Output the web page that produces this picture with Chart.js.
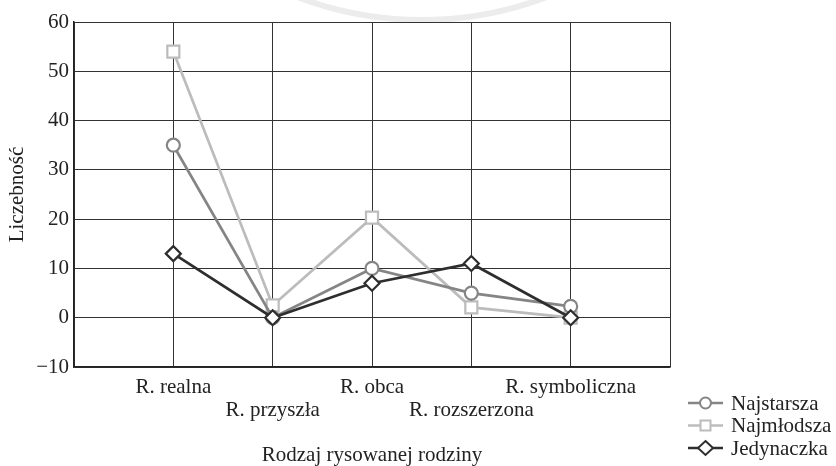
<!DOCTYPE html>
<html>
<head>
<meta charset="utf-8">
<script src="https://cdn.jsdelivr.net/npm/chart.js@4/dist/chart.umd.min.js"></script>
<style>
html,body{margin:0;padding:0;background:#fff;}
#wrap{width:836px;height:466px;position:relative;}
</style>
</head>
<body>
<div id="wrap"><canvas id="c" width="836" height="466"></canvas></div>
<script>
const categories = ['R. realna', 'R. przyszła', 'R. obca', 'R. rozszerzona', 'R. symboliczna'];
const najstarsza = [35, 0, 10, 5, 2.3];
const najmlodsza = [54, 2.5, 20.3, 2.1, 0];
const jedynaczka = [13, 0, 7, 11, 0];
const yTicks = [-10, 0, 10, 20, 30, 40, 50, 60];
const seriesNames = ['Najstarsza', 'Najmłodsza', 'Jedynaczka'];

const FONT = "'Liberation Serif', 'Times New Roman', serif";
const toPts = arr => arr.map((v, i) => ({x: i + 1, y: v}));

const styles = [
  {color: '#858585', point: 'circle', radius: 6.5, order: 1},
  {color: '#bcbcbc', point: 'rect', radius: 8.5, order: 2},
  {color: '#2e2e2e', point: 'rectRot', radius: 7.5, order: 0}
];
const seriesData = [najstarsza, najmlodsza, jedynaczka];

const watermark = {
  id: 'watermark',
  beforeDraw(chart) {
    const ctx = chart.ctx;
    ctx.save();
    ctx.strokeStyle = '#ececec';
    ctx.lineWidth = 6;
    ctx.beginPath();
    ctx.arc(422, -330, 350, 0, Math.PI);
    ctx.stroke();
    ctx.restore();
  }
};

const customLegend = {
  id: 'customLegend',
  afterDraw(chart) {
    const ctx = chart.ctx;
    const rows = [403, 425.5, 448];
    ctx.save();
    chart.data.datasets.forEach((ds, i) => {
      const y = rows[i];
      const st = styles[i];
      ctx.strokeStyle = st.color;
      ctx.lineWidth = 2.5;
      ctx.beginPath();
      ctx.moveTo(688, y);
      ctx.lineTo(723, y);
      ctx.stroke();
      ctx.fillStyle = '#fff';
      ctx.lineWidth = 2;
      ctx.beginPath();
      const cx = 705.5;
      if (st.point === 'circle') {
        ctx.arc(cx, y, 5.5, 0, Math.PI * 2);
      } else if (st.point === 'rect') {
        ctx.rect(cx - 5, y - 5, 10, 10);
      } else {
        ctx.moveTo(cx, y - 7); ctx.lineTo(cx + 7.5, y); ctx.lineTo(cx, y + 7); ctx.lineTo(cx - 7.5, y); ctx.closePath();
      }
      ctx.fill();
      ctx.stroke();
      ctx.fillStyle = '#222';
      ctx.font = '21px ' + FONT;
      ctx.textBaseline = 'middle';
      ctx.textAlign = 'left';
      ctx.fillText(ds.label, 731, y + 1);
    });
    ctx.restore();
  }
};

new Chart(document.getElementById('c'), {
  type: 'line',
  data: {
    datasets: seriesData.map((arr, i) => ({
      label: seriesNames[i],
      data: toPts(arr),
      order: styles[i].order,
      borderColor: styles[i].color,
      backgroundColor: '#fff',
      borderWidth: 2.7,
      pointStyle: styles[i].point,
      pointRadius: styles[i].radius,
      pointBorderWidth: 2.2,
      pointBorderColor: styles[i].color,
      pointBackgroundColor: '#fff',
      tension: 0,
      fill: false
    }))
  },
  options: {
    responsive: false,
    animation: false,
    devicePixelRatio: 1,
    layout: {padding: {left: 0, right: 166, top: 22, bottom: 0}},
    plugins: {legend: {display: false}, tooltip: {enabled: false}},
    scales: {
      x: {
        type: 'linear',
        min: 0, max: 6,
        afterFit: s => { s.height = 99; },
        afterBuildTicks: s => { s.ticks = [0,1,2,3,4,5,6].map(v => ({value: v})); },
        ticks: {
          autoSkip: false,
          maxRotation: 0,
          padding: 9,
          color: '#222',
          font: {family: FONT, size: 21, lineHeight: 1.1},
          callback: v => {
            const lab = categories[v - 1];
            if (!lab) return '';
            return (v % 2 === 1) ? [lab] : ['', lab];
          }
        },
        grid: {color: '#333', lineWidth: 1, drawTicks: false},
        border: {color: '#222', width: 1.5},
        title: {display: true, text: 'Rodzaj rysowanej rodziny', color: '#222',
          font: {family: FONT, size: 21, lineHeight: 1}, padding: {top: 4, bottom: 0}}
      },
      y: {
        min: -10, max: 60,
        afterFit: s => { s.width = 74; },
        afterBuildTicks: s => { s.ticks = yTicks.map(v => ({value: v})); },
        ticks: {
          padding: 5,
          color: '#222',
          font: {family: FONT, size: 21},
          callback: v => v < 0 ? '\u2212' + Math.abs(v) : String(v)
        },
        grid: {color: '#333', lineWidth: 1, drawTicks: false},
        border: {color: '#222', width: 1.5},
        title: {display: true, text: 'Liczebność', color: '#222',
          font: {family: FONT, size: 21, lineHeight: 1.2}, padding: {top: 5, bottom: 0}}
      }
    }
  },
  plugins: [watermark, customLegend]
});
</script>
</body>
</html>
